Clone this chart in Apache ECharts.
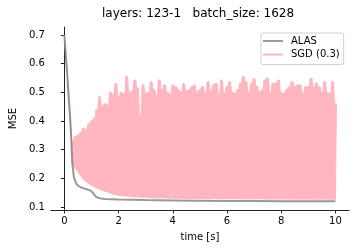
<!DOCTYPE html>
<html><head><meta charset="utf-8">
<script src="https://cdn.jsdelivr.net/npm/echarts@6/dist/echarts.min.js"></script>
<style>html,body{margin:0;padding:0;background:#fff}#c{width:360px;height:252px}</style>
</head><body><div id="c"></div>
<script>
const titleText = 'layers: 123-1   batch_size: 1628';
const xTicks = [0, 2, 4, 6, 8, 10];
const yTicks = [0.1, 0.2, 0.3, 0.4, 0.5, 0.6, 0.7];

const alasT = [0, 0.05, 0.1, 0.15, 0.2, 0.25, 0.29, 0.35, 0.4, 0.47, 0.6, 0.72, 0.85, 0.97, 1.05, 1.15, 1.25, 1.34, 1.5, 2, 3, 4, 5, 6, 7, 8, 9, 10];
const alasV = [0.70, 0.635, 0.57, 0.50, 0.43, 0.35, 0.255, 0.206, 0.19, 0.177, 0.169, 0.165, 0.161, 0.157, 0.150, 0.137, 0.132, 0.130, 0.128, 0.126, 0.124, 0.123, 0.122, 0.121, 0.121, 0.120, 0.120, 0.120];

const sgdT = [0, 0.05, 0.1, 0.15, 0.2, 0.25,
  0.3, 0.4, 0.5, 0.6, 0.7, 0.8, 0.9, 1.0, 1.1, 1.2, 1.3, 1.4, 1.5, 1.6, 1.7, 1.8, 1.9, 2.0,
  2.1, 2.2, 2.3, 2.4, 2.5, 2.6, 2.7, 2.8, 2.9, 3.0, 3.1, 3.2, 3.3, 3.4, 3.5, 3.6, 3.7, 3.8, 3.9, 4.0,
  4.1, 4.2, 4.3, 4.4, 4.5, 4.6, 4.7, 4.8, 4.9, 5.0, 5.1, 5.2, 5.3, 5.4, 5.5, 5.6, 5.7, 5.8, 5.9, 6.0,
  6.1, 6.2, 6.3, 6.4, 6.5, 6.6, 6.7, 6.8, 6.9, 7.0, 7.1, 7.2, 7.3, 7.4, 7.5, 7.6, 7.7, 7.8, 7.9, 8.0,
  8.1, 8.2, 8.3, 8.4, 8.5, 8.6, 8.7, 8.8, 8.9, 9.0, 9.1, 9.2, 9.3, 9.4, 9.5, 9.6, 9.7, 9.8, 9.9, 10.0];
const sgdHi = [0.70, 0.635, 0.57, 0.50, 0.43, 0.35,
  0.33, 0.345, 0.35, 0.36, 0.375, 0.37, 0.39, 0.40, 0.41, 0.44, 0.485, 0.45, 0.46, 0.455, 0.50, 0.49, 0.53, 0.485,
  0.50, 0.495, 0.555, 0.50, 0.505, 0.543, 0.515, 0.42, 0.526, 0.497, 0.50, 0.537, 0.51, 0.49, 0.543, 0.51, 0.526, 0.50, 0.495, 0.526,
  0.52, 0.51, 0.50, 0.53, 0.505, 0.51, 0.52, 0.525, 0.50, 0.51, 0.52, 0.497, 0.537, 0.505, 0.526, 0.532, 0.497, 0.543, 0.497, 0.52,
  0.537, 0.50, 0.497, 0.51, 0.532, 0.555, 0.537, 0.50, 0.532, 0.547, 0.52, 0.50, 0.51, 0.543, 0.549, 0.50, 0.532, 0.532, 0.543, 0.50,
  0.497, 0.51, 0.52, 0.537, 0.52, 0.526, 0.526, 0.497, 0.52, 0.52, 0.549, 0.52, 0.532, 0.52, 0.50, 0.537, 0.50, 0.497, 0.537, 0.46];
const sgdLo = [0.70, 0.635, 0.57, 0.50, 0.43, 0.35,
  0.25, 0.235, 0.222, 0.21, 0.196, 0.188, 0.182, 0.176, 0.171, 0.166, 0.161, 0.158, 0.155, 0.152, 0.148, 0.145, 0.143, 0.141,
  0.140, 0.139, 0.138, 0.137, 0.136, 0.135, 0.135, 0.134, 0.134, 0.133, 0.133, 0.132, 0.132, 0.132, 0.131, 0.132, 0.131, 0.131, 0.130, 0.131,
  0.130, 0.130, 0.131, 0.130, 0.130, 0.129, 0.130, 0.130, 0.129, 0.130, 0.129, 0.130, 0.129, 0.129, 0.130, 0.129, 0.129, 0.128, 0.129, 0.129,
  0.128, 0.129, 0.129, 0.128, 0.129, 0.128, 0.128, 0.129, 0.128, 0.128, 0.128, 0.129, 0.128, 0.128, 0.128, 0.127, 0.128, 0.128, 0.127, 0.128,
  0.128, 0.127, 0.128, 0.127, 0.128, 0.127, 0.127, 0.128, 0.127, 0.127, 0.128, 0.127, 0.127, 0.127, 0.128, 0.127, 0.127, 0.127, 0.127, 0.127];
const bandStartT = 0.3;

const FONT = 'DejaVu Sans';
const PINK = '#ffb6c1';

function renderBand(params, api) {
  if (params.dataIndex !== 0) return null;
  const pts = [];
  const d = 0.035;
  for (let i = 0; i < sgdT.length; i++) {
    if (sgdT[i] < bandStartT) {
      pts.push(api.coord([sgdT[i], sgdHi[i]]));
    } else {
      pts.push(api.coord([sgdT[i] - d, sgdHi[i]]));
      pts.push(api.coord([sgdT[i] + d, sgdHi[i]]));
    }
  }
  for (let i = sgdT.length - 1; i >= 0; i--) pts.push(api.coord([sgdT[i], sgdLo[i]]));
  return {
    type: 'polygon',
    shape: {points: pts},
    style: {fill: PINK, stroke: PINK, lineWidth: 1, lineJoin: 'miter'}
  };
}

const chart = echarts.init(document.getElementById('c'), null, {renderer: 'canvas'});
chart.setOption({
  animation: false,
  backgroundColor: '#fff',
  textStyle: {fontFamily: FONT},
  title: {
    text: titleText, left: 102, top: 8, padding: 0,
    textStyle: {fontFamily: FONT, fontSize: 12, fontWeight: 'normal', color: '#000'}
  },
  legend: {
    data: ['ALAS', 'SGD (0.3)'],
    orient: 'vertical', left: 261, top: 33,
    padding: [2, 4, 4, 2], itemGap: 1.5,
    itemWidth: 20, itemHeight: 2, icon: 'rect',
    borderColor: '#d0d0d0', borderWidth: 1, borderRadius: 2,
    backgroundColor: 'rgba(255,255,255,0.8)',
    textStyle: {fontFamily: FONT, fontSize: 10, color: '#000', lineHeight: 12, padding: [0, 0, 0, 3]}
  },
  grid: {left: 48, right: 11, top: 27, bottom: 42, containLabel: false},
  xAxis: {
    type: 'value', min: -0.5, max: 10.5,
    name: 'time [s]', nameLocation: 'middle', nameGap: 22,
    nameTextStyle: {fontFamily: FONT, fontSize: 10, color: '#000'},
    axisLine: {show: true, lineStyle: {color: '#222', width: 1}},
    axisTick: {show: true, length: 3.5, inside: false, customValues: xTicks, lineStyle: {color: '#222'}},
    axisLabel: {customValues: xTicks, margin: 6, fontFamily: FONT, fontSize: 10, color: '#000', formatter: v => String(v)},
    splitLine: {show: false}
  },
  yAxis: {
    type: 'value', min: 0.0895, max: 0.728,
    name: 'MSE', nameLocation: 'middle', nameGap: 26, nameRotate: 90,
    nameTextStyle: {fontFamily: FONT, fontSize: 10, color: '#000'},
    axisLine: {show: true, lineStyle: {color: '#222', width: 1}},
    axisTick: {show: true, length: 3.5, inside: false, customValues: yTicks, lineStyle: {color: '#222'}},
    axisLabel: {customValues: yTicks, margin: 6, fontFamily: FONT, fontSize: 10, color: '#000', formatter: v => v.toFixed(1)},
    splitLine: {show: false}
  },
  series: [
    {
      name: 'SGD (0.3)', type: 'custom',
      data: sgdT.map((t, i) => [t, sgdLo[i], sgdHi[i]]),
      encode: {x: 0, y: [1, 2]},
      renderItem: renderBand,
      itemStyle: {color: PINK}, z: 2
    },
    {
      name: 'ALAS', type: 'line', symbol: 'none',
      data: alasT.map((t, i) => [t, alasV[i]]),
      lineStyle: {color: '#808080', width: 2, opacity: 0.8},
      itemStyle: {color: '#999999'}, z: 3
    }
  ]
});
</script></body></html>
